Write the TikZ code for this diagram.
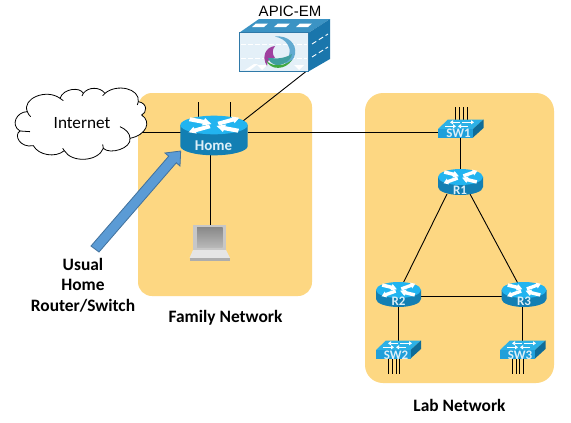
\documentclass[tikz,border=0pt]{standalone}
\usepackage{fontspec}
\setmainfont{Carlito}
\newfontfamily\arialfont{Liberation Sans}
\usetikzlibrary{arrows.meta}
\definecolor{zone}{HTML}{FDD782}
\definecolor{rtop}{HTML}{22B4F0}
\definecolor{rbody}{HTML}{137FB3}
\definecolor{swtop}{HTML}{2CB1E6}
\definecolor{swfront}{HTML}{1F9FDA}
\definecolor{swside}{HTML}{0F6C98}
\definecolor{devtext}{HTML}{DDEFF8}
\definecolor{srvfront}{HTML}{E4F0F8}
\definecolor{srvedge}{HTML}{2F79A8}
\definecolor{srvtop}{HTML}{3B93C4}
\definecolor{srvside}{HTML}{1A76AC}
\definecolor{arrowfill}{HTML}{5B9BD5}
\definecolor{arrowedge}{HTML}{41719C}
\tikzset{
  zonebox/.style={fill=zone,draw=none},
  link/.style={draw=black,line width=0.9pt},
  anchorbox/.style={inner sep=0pt,outer sep=0pt},
  heading/.style={font=\bfseries\fontsize{17.4}{19}\selectfont,inner sep=0pt,align=center},
  devlabel/.style={text=devtext,inner sep=0pt,font=\bfseries\fontsize{13}{13}\selectfont},
}
% #1 cx, #2 cy (top ellipse), #3 rx, #4 ry, #5 height
\newcommand{\routericon}[5]{%
  \fill[rbody] (#1-#3,#2) -- (#1-#3,#2+#5) arc[start angle=180,end angle=360,x radius=#3pt,y radius=#4pt] -- (#1+#3,#2) -- cycle;
  \fill[rtop] (#1,#2) ellipse[x radius=#3pt,y radius=#4pt];
  \begin{scope}[shift={(#1,#2)},x=#3pt*1.25,y=-#4pt]
    \foreach \sg in {1,-1}{
      \fill[white] (\sg*0.117,\sg*0.06) -- (\sg*0.467,\sg*-0.38) -- (\sg*0.49,\sg*-0.2) -- (\sg*0.6,\sg*-0.78) -- (\sg*0.41,\sg*-0.92) -- (\sg*0.433,\sg*-0.78) -- (\sg*0.083,\sg*-0.34) -- cycle;
      \fill[white] (\sg*0.564,\sg*0.83) -- (\sg*0.234,\sg*0.55) -- (\sg*0.21,\sg*0.74) -- (\sg*0.06,\sg*0.1) -- (\sg*0.29,\sg*-0.06) -- (\sg*0.266,\sg*0.13) -- (\sg*0.596,\sg*0.41) -- cycle;
    }
  \end{scope}}
% #1 front left x, #2 front top y, #3 width
\newcommand{\switchicon}[3]{%
  \fill[swtop] (#1,#2) -- (#1+#3,#2) -- (#1+#3+10.5,#2-9.5) -- (#1+10,#2-9.5) -- cycle;
  \fill[swside] (#1+#3,#2) -- (#1+#3+10.5,#2-9.5) -- (#1+#3+10.5,#2-1) -- (#1+#3,#2+8.5) -- cycle;
  \fill[swfront] (#1,#2) rectangle (#1+#3,#2+8.5);
  \begin{scope}[white,line width=1.2pt,>={Triangle[width=4pt,length=3pt]}]
    \draw[->] (#1+7,#2-2.7) -- (#1+18,#2-2.7);
    \draw[->] (#1+30,#2-2.7) -- (#1+20,#2-2.7);
    \draw[->] (#1+22,#2-6.7) -- (#1+12,#2-6.7);
    \draw[->] (#1+24,#2-6.7) -- (#1+36,#2-6.7);
  \end{scope}}
\begin{document}
\begin{tikzpicture}[x=1pt,y=-1pt]
\useasboundingbox (0,0) rectangle (571,423);
\fill[white] (0,0) rectangle (571,423);
% zones
\fill[zonebox,rounded corners=14pt] (138,93) rectangle (312,296);
\fill[zonebox,rounded corners=18pt] (365,93) rectangle (554,383);
% anchors
\node[anchorbox,minimum width=67pt,minimum height=39pt] (Home) at (214,135.5) {};
\node[anchorbox,minimum width=45pt,minimum height=25pt] (R1) at (460,181.5) {};
\node[anchorbox,minimum width=45pt,minimum height=25pt] (R2) at (398.5,296) {};
\node[anchorbox,minimum width=45pt,minimum height=25pt] (R3) at (522.5,296) {};
\node[anchorbox,minimum width=45pt,minimum height=18pt] (SW1) at (460,128) {};
\node[anchorbox,minimum width=45pt,minimum height=18pt] (SW2) at (398.5,350) {};
\node[anchorbox,minimum width=45pt,minimum height=18pt] (SW3) at (522.5,350) {};
\node[anchorbox,minimum width=69pt,minimum height=39pt] (APIC) at (274,52) {};
\node[anchorbox,minimum width=33pt,minimum height=25pt] (Laptop) at (209.5,237.5) {};
\node[anchorbox,minimum width=125pt,minimum height=70pt] (Internet) at (79,125) {};
% stub ends
\coordinate (a1) at (198,102); \coordinate (a2) at (230,102);
\foreach \n/\x in {1/455.7,2/459.7,3/463.7,4/467.7} \coordinate (s1\n) at (\x,107);
\foreach \n/\x in {1/388.5,2/392,3/396,4/399.5} \coordinate (s2\n) at (\x,373.5);
\foreach \n/\x in {1/512.5,2/516,3/519.7,4/523.3} \coordinate (s3\n) at (\x,373.5);
% connectors
\draw[link] (Internet.east |- 0,132) -- (Home.west |- 0,132);
\draw[link] (Home.east |- 0,132) -- (SW1.west |- 0,132);
\draw[link] (a1) -- (198,122);
\draw[link] (a2) -- (230,122);
\draw[link] (243,121) -- ([xshift=32pt]APIC.south);
\draw[link] (Home.south -| Laptop.north) ++(1,0) -- ([xshift=1pt]Laptop.north);
\draw[link] (SW1.center) -- (R1.north);
\draw[link] ([xshift=-13pt]R1.south) -- ([xshift=4.5pt]R2.north);
\draw[link] ([xshift=10pt]R1.south) -- ([xshift=-4.5pt]R3.north);
\draw[link] (R2.center) -- (R3.center);
\draw[link] (R2.center) -- (SW2.center);
\draw[link] (R3.center) -- (SW3.center);
\foreach \n/\x in {1/455.7,2/459.7,3/463.7,4/467.7} \draw[link] (s1\n) -- (\x,122);
\foreach \n/\x in {1/388.5,2/392,3/396,4/399.5} \draw[link] (s2\n) -- (\x,355);
\foreach \n/\x in {1/512.5,2/516,3/519.7,4/523.3} \draw[link] (s3\n) -- (\x,355);
% cloud
\begin{scope}[shift={(0,80)},x=0.3333pt,y=-0.3333pt]
\draw[fill=white,line width=0.8pt]
 (82,95) .. controls (65,55) and (140,25) .. (180,55)
 .. controls (190,25) and (240,20) .. (250,40)
 .. controls (265,20) and (300,20) .. (315,40)
 .. controls (350,10) and (420,25) .. (415,65)
 .. controls (445,70) and (440,100) .. (425,105)
 .. controls (455,125) and (440,165) .. (390,175)
 .. controls (395,205) and (330,225) .. (310,205)
 .. controls (295,245) and (215,250) .. (193,212)
 .. controls (165,235) and (115,225) .. (100,197)
 .. controls (60,205) and (40,165) .. (60,153)
 .. controls (30,135) and (50,95) .. (82,95) -- cycle;
\draw[line width=0.8pt] (60,153) -- (90,155);
\draw[line width=0.8pt] (82,95) .. controls (84,102) and (88,106) .. (92,110);
\draw[line width=0.8pt] (180,55) -- (190,62);
\draw[line width=0.8pt] (250,40) -- (246,48);
\draw[line width=0.8pt] (315,40) -- (308,47);
\draw[line width=0.8pt] (415,65) -- (412,75);
\draw[line width=0.8pt] (360,140) .. controls (378,148) and (390,160) .. (390,175);
\draw[line width=0.8pt] (310,205) -- (308,193);
\draw[line width=0.8pt] (193,212) -- (188,205);
\end{scope}
\node[inner sep=0pt,font=\fontsize{17.2}{19}\selectfont] (InternetText) at (82,123) {Internet};
% block arrow
\draw[fill=arrowfill,draw=arrowedge,line width=0.8pt,line join=miter]
 (91,246) -- (168.7,156.2) -- (165,153) -- (180.7,151) -- (180,166) -- (176.3,162.8) -- (99,252) -- cycle;
% APIC-EM
\fill[srvtop] (239.3,32.7) -- (259,19) -- (330,19) -- (308.7,32.7) -- cycle;
\fill[white] (252,27) -- (256,23.5) -- (268,23.5) -- (264,27) -- cycle;
\fill[white] (274,27) -- (278,23.5) -- (290,23.5) -- (286,27) -- cycle;
\fill[white] (296,27) -- (300,23.5) -- (312,23.5) -- (308,27) -- cycle;
\fill[srvside] (308.7,32.7) -- (330,19) -- (330,59) -- (308.7,71.3) -- cycle;
\draw[white,line width=0.9pt,dash pattern=on 5pt off 3pt] (312,44) -- (328,34);
\draw[white,line width=0.9pt,dash pattern=on 5pt off 3pt] (312,57) -- (328,47);
\draw[fill=srvfront,draw=srvedge,line width=0.9pt] (239.3,32.7) rectangle (308.7,71.3);
\draw[white,line width=0.7pt,dash pattern=on 5pt off 2pt] (241,44.5) -- (307,44.5);
\draw[white,line width=0.7pt,dash pattern=on 5pt off 2pt] (241,58) -- (307,58);
\fill[white] (257,65) -- (267,65) -- (262,70) -- cycle;
\fill[white] (294,65) -- (304,65) -- (299,70) -- cycle;
\fill[white] (245,70) -- (254,64) -- (258,64) -- (250,70) -- cycle;
\fill[blue!35!cyan!55!gray!80] (275,36.5) .. controls (288,35) and (297,44) .. (295,54) .. controls (294,60) and (290,63) .. (284,65) .. controls (290,58) and (291,49) .. (288,45) .. controls (285,40) and (281,38) .. (275,36.5) -- cycle;
\fill[violet!75!white] (275,46) .. controls (266,47) and (261,56) .. (267,66) .. controls (267,60) and (270,58) .. (275,58) .. controls (272,54) and (272,50) .. (275,46) -- cycle;
\fill[teal!75!white] (268,58) .. controls (274,58) and (282,60) .. (292,54) .. controls (291,61) and (282,66) .. (276,65) .. controls (272,64) and (269,61) .. (268,58) -- cycle;
\fill[green!55!black!75!white] (266,60) .. controls (270,66) and (282,68) .. (292,60) .. controls (286,70) and (270,71) .. (266,60) -- cycle;
\node[inner sep=0pt,font=\arialfont\fontsize{15}{17}\selectfont] (APIClabel) at (290,11.5) {APIC-EM};
% laptop
\fill[black!22] (193,225) rectangle (226,250);
\shade[top color=black!46,bottom color=black!28] (197,227.7) rectangle (222.7,247);
\fill[black!10] (193,250) -- (226,250) -- (230,258) -- (189.5,258) -- cycle;
\fill[black!32] (189.5,258) rectangle (230,261);
% routers
\routericon{214}{125}{33.7}{9.3}{21}
\routericon{460.5}{177}{22.5}{8}{10}
\routericon{398.5}{290}{22.5}{8}{9}
\routericon{524}{290}{22.5}{8}{9}
\node[devlabel,font=\bfseries\fontsize{15}{15}\selectfont] (HomeL) at (213.5,146) {Home};
\node[devlabel] (R1L) at (460,190) {R1};
\node[devlabel] (R2L) at (398.5,301.5) {R2};
\node[devlabel] (R3L) at (524,301.5) {R3};
% switches
\switchicon{438}{129}{35}
\switchicon{376}{350}{34.5}
\switchicon{500}{350}{35}
\node[devlabel] (SW1L) at (458.5,133) {SW1};
\node[devlabel] (SW2L) at (396,355) {SW2};
\node[devlabel] (SW3L) at (520,355) {SW3};
% headings
\node[heading] (UsualL) at (83,285) {Usual\\[1.5pt]Home\\[1.5pt]Router/Switch};
\node[heading] (FamilyL) at (225.5,318) {Family Network};
\node[heading] (LabL) at (459.5,405) {Lab Network};
\end{tikzpicture}
\end{document}
